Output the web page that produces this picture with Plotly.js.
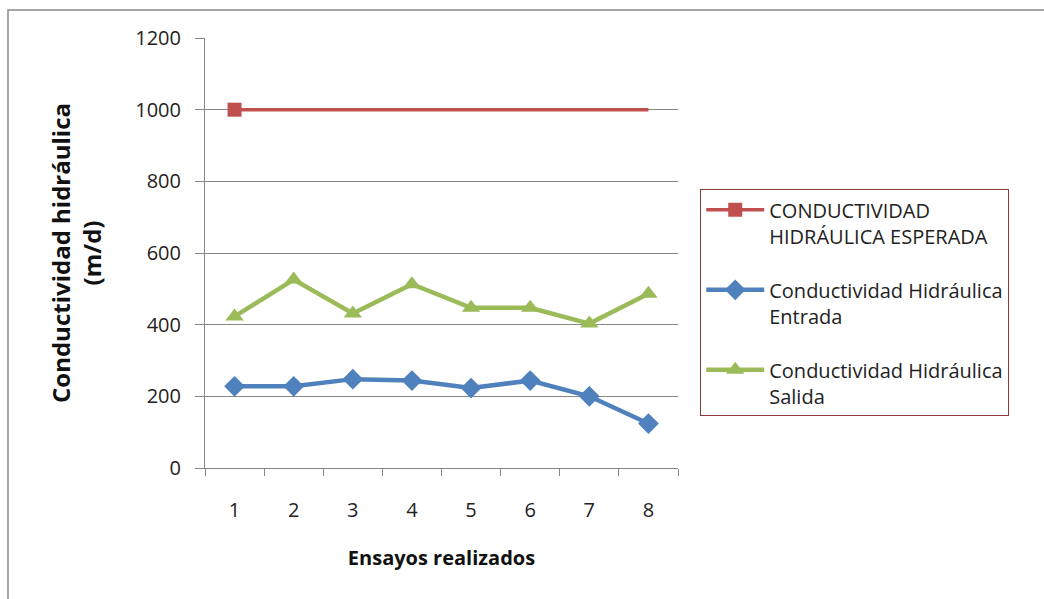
<!DOCTYPE html>
<html>
<head>
<meta charset="utf-8">
<script src="https://cdn.plot.ly/plotly-3.0.1.min.js"></script>
<style>html,body{margin:0;padding:0;background:#fff;}#chart{width:1044px;height:599px;}</style>
</head>
<body>
<div id="chart"></div>
<script>
const categories = ["1","2","3","4","5","6","7","8"];
const esperada = [1000,1000,1000,1000,1000,1000,1000,1000];
const entrada = [228,228,248,244,223,244,200,124];
const salida = [423,526,431,513,447,447,403,486];
const seriesNames = [
  "CONDUCTIVIDAD<br>HIDRÁULICA ESPERADA",
  "Conductividad Hidráulica<br>Entrada",
  "Conductividad Hidráulica<br>Salida"
];

const red = "#C0504D", blue = "#4F81BD", green = "#9BBB59";
const font = "Open Sans, Noto Sans, sans-serif";

const traces = [
  {x: categories, y: esperada, type: "scatter", mode: "lines", line: {color: red, width: 3.5},
   showlegend: false, legendgroup: "a", hoverinfo: "skip"},
  {x: [categories[0]], y: [esperada[0]], type: "scatter", mode: "lines+markers", name: seriesNames[0],
   line: {color: red, width: 3.5}, marker: {symbol: "square", size: 14, color: red}, legendgroup: "a"},
  {x: categories, y: entrada, type: "scatter", mode: "lines+markers", name: seriesNames[1],
   line: {color: blue, width: 4.5}, marker: {symbol: "diamond", size: 16, color: blue}, legendgroup: "b"},
  {x: categories, y: salida, type: "scatter", mode: "lines+markers", name: seriesNames[2],
   line: {color: green, width: 4.5}, marker: {symbol: "triangle-up", size: 16, color: green}, legendgroup: "c"}
];

const layout = {
  width: 1044, height: 599,
  margin: {l: 205, r: 366, t: 38, b: 131},
  paper_bgcolor: "#fff", plot_bgcolor: "#fff",
  font: {family: font, size: 20, color: "#222"},
  xaxis: {
    type: "category", range: [-0.5, 7.5],
    showgrid: false, showline: true, linecolor: "#868686", linewidth: 1,
    ticks: "outside", tickson: "boundaries", ticklen: 7, tickcolor: "#868686",
    ticklabelstandoff: 24,
    tickfont: {family: font, size: 20, color: "#222"},
    title: {text: "<b>Ensayos realizados</b>", font: {family: font, size: 20, color: "#111"}, standoff: 28},
    zeroline: false
  },
  yaxis: {
    range: [0, 1200], dtick: 200, tick0: 0,
    showgrid: true, gridcolor: "#878787", gridwidth: 1,
    showline: true, linecolor: "#868686", linewidth: 1,
    ticks: "outside", ticklen: 9, tickcolor: "#868686",
    ticklabelstandoff: 10,
    tickfont: {family: font, size: 20, color: "#222"},
    title: {text: "<b>Conductividad hidráulica<br>(m/d)</b>", font: {family: font, size: 24, color: "#111"}, standoff: 26},
    zeroline: false
  },
  legend: {
    x: 1.047, y: 0.648, xanchor: "left", yanchor: "top",
    bordercolor: "#8B3A3A", borderwidth: 1, bgcolor: "#fff",
    font: {family: font, size: 20, color: "#222"},
    traceorder: "grouped", tracegroupgap: 25, valign: "top",
    itemwidth: 58
  },
  shapes: [
    {type: "rect", xref: "paper", yref: "paper",
     x0: -0.4165, x1: 1.9, y0: -0.5, y1: 1.065,
     line: {color: "#8a8a8a", width: 1.5}, fillcolor: "rgba(0,0,0,0)", layer: "below"}
  ],
  showlegend: true
};

Plotly.newPlot("chart", traces, layout, {staticPlot: true, displayModeBar: false});
</script>
</body>
</html>
